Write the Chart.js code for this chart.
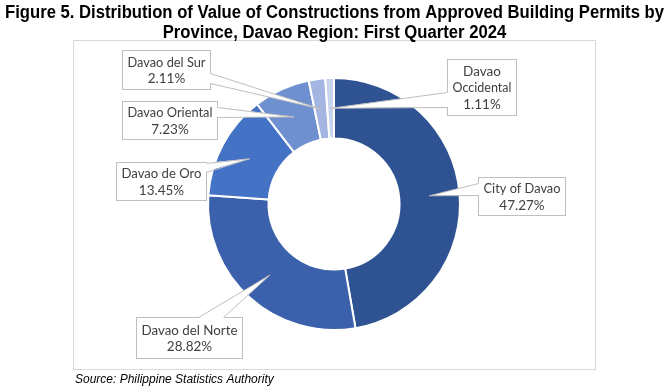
<!DOCTYPE html>
<html>
<head>
<meta charset="utf-8">
<script src="https://cdn.jsdelivr.net/npm/chart.js@4.4.0/dist/chart.umd.min.js"></script>
<style>
  html, body { margin: 0; padding: 0; background: #fff; }
  #wrap { width: 669px; height: 392px; position: relative; }
</style>
</head>
<body>
<div id="wrap"><canvas id="grafico" width="669" height="392"></canvas></div>
<script>
// Dados do gráfico
const provincias = ['City of Davao', 'Davao del Norte', 'Davao de Oro', 'Davao Oriental', 'Davao del Sur', 'Davao Occidental'];
const percentuais = [47.27, 28.82, 13.45, 7.23, 2.11, 1.11];
const cores = ['#2F5392', '#3B61AC', '#4472C4', '#6F90D0', '#A3B5E0', '#C8D3EC'];

const tituloLinhas = [
    'Figure 5. Distribution of Value of Constructions from Approved Building Permits by',
    'Province, Davao Region: First Quarter 2024'
];
const fonte = 'Source: Philippine Statistics Authority';

// Caixas dos rótulos (layout apenas): x, y, largura, altura, lado da seta, início/fim da base
const caixas = [
    { x: 478, y: 177, w: 87, h: 38, lado: 'left', b0: 6, b1: 18 },
    { x: 136, y: 317, w: 106, h: 41, lado: 'top', b0: 62, b1: 87 },
    { x: 116, y: 162, w: 90, h: 38, lado: 'right', b0: 1, b1: 10 },
    { x: 122, y: 101, w: 95, h: 38, lado: 'right', b0: 6, b1: 16 },
    { x: 122, y: 50, w: 88, h: 39, lado: 'right', b0: 23, b1: 33 },
    { x: 447, y: 59, w: 69, h: 56, lado: 'left', b0: 33, b1: 48 }
];

// quebra só quando o texto não cabe nem comprimido
function quebrarTexto(ctx, texto, largura) {
    if (ctx.measureText(texto).width * 0.85 <= largura || texto.indexOf(' ') < 0) return [texto];
    const k = texto.indexOf(' ');
    return [texto.slice(0, k), texto.slice(k + 1)];
}

// Título, fonte e moldura
const molduraPlugin = {
    id: 'moldura',
    beforeDraw(chart) {
        const ctx = chart.ctx;
        ctx.save();
        ctx.fillStyle = '#fff';
        ctx.fillRect(0, 0, chart.width, chart.height);
        ctx.strokeStyle = '#D9D9D9';
        ctx.lineWidth = 1;
        ctx.strokeRect(73.5, 40.5, 522, 329);

        ctx.fillStyle = '#000';
        ctx.font = 'bold 18px "Liberation Sans", Arial, sans-serif';
        ctx.textAlign = 'center';
        ctx.textBaseline = 'alphabetic';
        const escala = 659 / ctx.measureText(tituloLinhas[0]).width;
        [18, 38].forEach((yb, i) => {
            ctx.save();
            ctx.translate(334.5, yb);
            ctx.scale(Math.min(escala, 1), 1);
            ctx.fillText(tituloLinhas[i], 0, 0);
            ctx.restore();
        });

        ctx.font = 'italic 12px "Liberation Sans", Arial, sans-serif';
        ctx.textAlign = 'left';
        const escalaF = 202 / ctx.measureText(fonte).width;
        ctx.save();
        ctx.translate(75, 383);
        ctx.scale(Math.min(escalaF, 1), 1);
        ctx.fillText(fonte, 0, 0);
        ctx.restore();
        ctx.restore();
    }
};

// Rótulos com balão
const rotulosPlugin = {
    id: 'rotulos',
    afterDatasetsDraw(chart) {
        const ctx = chart.ctx;
        const arcos = chart.getDatasetMeta(0).data;
        ctx.save();
        ctx.font = '13.5px Lato, "Open Sans", sans-serif';
        arcos.forEach((arco, i) => {
            const p = arco.tooltipPosition();
            const c = caixas[i];
            let a, b, a2, b2;
            if (c.lado === 'left') {
                a = [c.x, c.y + c.b0]; b = [c.x, c.y + c.b1];
                a2 = [c.x + 1.5, a[1]]; b2 = [c.x + 1.5, b[1]];
            } else if (c.lado === 'right') {
                a = [c.x + c.w, c.y + c.b0]; b = [c.x + c.w, c.y + c.b1];
                a2 = [a[0] - 1.5, a[1]]; b2 = [b[0] - 1.5, b[1]];
            } else {
                a = [c.x + c.b0, c.y]; b = [c.x + c.b1, c.y];
                a2 = [a[0], c.y + 1.5]; b2 = [b[0], c.y + 1.5];
            }
            ctx.lineWidth = 1;
            ctx.strokeStyle = '#BFBFBF';
            ctx.fillStyle = '#fff';
            ctx.fillRect(c.x, c.y, c.w, c.h);
            ctx.strokeRect(c.x + 0.5, c.y + 0.5, c.w, c.h);

            ctx.beginPath();
            ctx.moveTo(a2[0], a2[1]);
            ctx.lineTo(p.x, p.y);
            ctx.lineTo(b2[0], b2[1]);
            ctx.closePath();
            ctx.fill();
            ctx.beginPath();
            ctx.moveTo(a[0] + 0.5, a[1] + 0.5);
            ctx.lineTo(p.x, p.y);
            ctx.lineTo(b[0] + 0.5, b[1] + 0.5);
            ctx.stroke();

            const util = c.w - 10;
            const linhas = quebrarTexto(ctx, provincias[i], util);
            linhas.push(percentuais[i].toFixed(2) + '%');
            const alturaLinha = 16.3;
            const y0 = c.y + c.h / 2 - (linhas.length - 1) * alturaLinha / 2 + 1;
            ctx.fillStyle = '#404040';
            ctx.textAlign = 'center';
            ctx.textBaseline = 'middle';
            linhas.forEach((t, j) => {
                const larg = ctx.measureText(t).width;
                ctx.save();
                ctx.translate(c.x + c.w / 2 + 0.5, y0 + j * alturaLinha);
                ctx.scale(Math.min(1, util / larg), 1);
                ctx.fillText(t, 0, 0);
                ctx.restore();
            });
        });
        ctx.restore();
    }
};

new Chart(document.querySelector('#grafico'), {
    type: 'doughnut',
    data: {
        labels: provincias,
        datasets: [{
            data: percentuais,
            backgroundColor: cores,
            borderColor: '#fff',
            borderWidth: 2,
            hoverOffset: 0
        }]
    },
    options: {
        responsive: false,
        animation: false,
        cutout: '52%',
        layout: { padding: { top: 77, bottom: 61, left: 100, right: 101 } },
        plugins: {
            legend: { display: false },
            tooltip: { enabled: false },
            title: { display: false }
        }
    },
    plugins: [molduraPlugin, rotulosPlugin]
});
</script>
</body>
</html>
